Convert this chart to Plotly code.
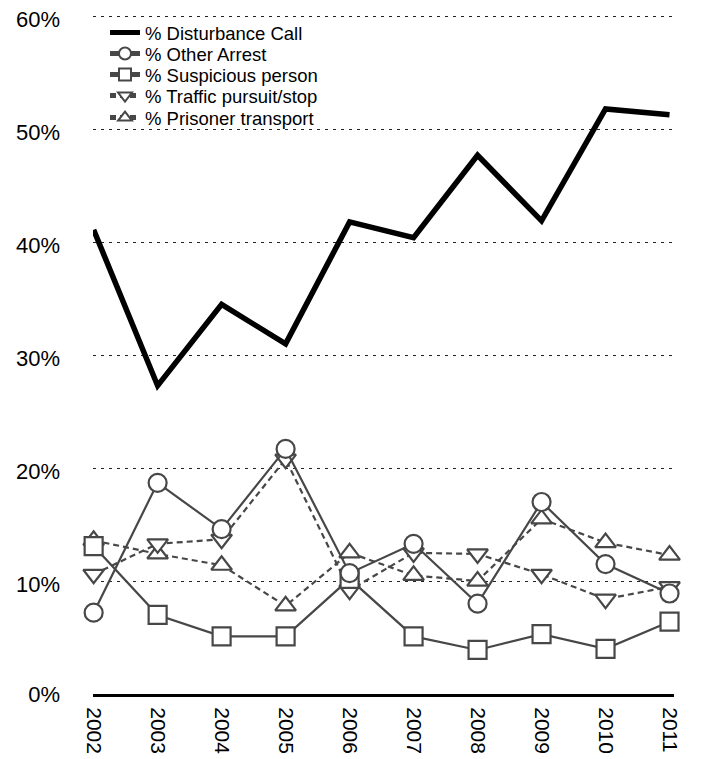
import plotly.graph_objects as go

years = [2002, 2003, 2004, 2005, 2006, 2007, 2008, 2009, 2010, 2011]
disturbance = [41.1, 27.3, 34.5, 31.0, 41.8, 40.4, 47.7, 41.9, 51.8, 51.3]
other_arrest = [7.2, 18.7, 14.6, 21.7, 10.7, 13.3, 8.0, 17.0, 11.5, 8.9]
suspicious = [13.1, 7.0, 5.1, 5.1, 10.2, 5.1, 3.9, 5.3, 4.0, 6.4]
traffic = [10.6, 13.3, 13.7, 20.8, 9.2, 12.5, 12.4, 10.6, 8.4, 9.5]
prisoner = [13.6, 12.4, 11.4, 7.8, 12.5, 10.5, 10.0, 15.5, 13.4, 12.3]
y_ticks = [0, 10, 20, 30, 40, 50, 60]

GRAY = "#474747"
FONT = "Liberation Sans, Arial, Helvetica, sans-serif"

# the page body has an 8px margin, so the figure is sized to end at the window edge
W, H = 697, 751
ML, MR, MT, MB = 85, 31, 5, 65
PH = H - MT - MB
Y_RANGE = [0, 60.3]
LABEL_DROP = 0.3  # labels sit slightly below their gridlines, as in the original

# legend row centres (px from top of the figure)
legend_rows = {"legend": 25, "legend2": 46, "legend3": 67, "legend4": 88, "legend5": 110}

fig = go.Figure()

def add_series(name, vals, symbol, dash, leg):
    fig.add_trace(go.Scatter(
        x=years, y=vals, name=name, mode="lines+markers",
        line=dict(color=GRAY, width=2.2, dash=dash),
        marker=dict(symbol=symbol, size=18, color="white",
                    line=dict(color=GRAY, width=2.2)),
        cliponaxis=False, legend=leg,
    ))

add_series("% Prisoner transport", prisoner, "triangle-up", "6px,4px", "legend5")
add_series("% Traffic pursuit/stop", traffic, "triangle-down", "6px,4px", "legend4")
add_series("% Suspicious person", suspicious, "square", "solid", "legend3")
add_series("% Other Arrest", other_arrest, "circle", "solid", "legend2")
# same range as y; this axis carries the percentage labels
fig.add_trace(go.Scatter(
    x=years, y=disturbance, name="% Disturbance Call", mode="lines",
    line=dict(color="black", width=5.5), cliponaxis=False, legend="legend",
    yaxis="y2",
))

legend_x = (97 - ML) / (W - ML - MR)
layout_legends = {}
for key, ypx in legend_rows.items():
    layout_legends[key] = dict(
        x=legend_x, y=1 - (ypx - MT) / PH, xanchor="left", yanchor="middle",
        font=dict(family=FONT, size=18.5, color="black"),
        bgcolor="rgba(0,0,0,0)", itemsizing="constant", itemwidth=30,
        borderwidth=0,
    )

label_pos = [max(v - LABEL_DROP, Y_RANGE[0]) for v in y_ticks]

fig.update_layout(
    width=W, height=H,
    margin=dict(l=ML, r=MR, t=MT, b=MB),
    paper_bgcolor="white", plot_bgcolor="white",
    font=dict(family=FONT, size=22, color="black"),
    showlegend=True,
    **layout_legends,
    yaxis=dict(
        range=Y_RANGE, tickmode="array", tickvals=y_ticks,
        showticklabels=False, automargin=False,
        showgrid=True, gridcolor="#222", gridwidth=1.3, griddash="3px,5px",
        zeroline=False, showline=False, ticks="",
    ),
    yaxis2=dict(
        overlaying="y", side="left", anchor="x", range=Y_RANGE,
        tickmode="array", tickvals=label_pos,
        ticktext=[f"{v}%" for v in y_ticks], automargin=False,
        showgrid=False, zeroline=False, showline=False, ticks="",
        ticklabelstandoff=32, ticklabeloverflow="allow",
        tickfont=dict(family=FONT, size=22, color="black"),
    ),
    xaxis=dict(
        range=[2001.99, 2011.07], tickmode="array", tickvals=years,
        ticktext=[str(y) for y in years], tickangle=90,
        showgrid=False, zeroline=False, automargin=False,
        showline=True, linecolor="black", linewidth=3,
        ticks="", ticklabelstandoff=6, ticklabeloverflow="allow",
        tickfont=dict(family=FONT, size=21, color="black"),
    ),
)

fig.write_html("out.html")
